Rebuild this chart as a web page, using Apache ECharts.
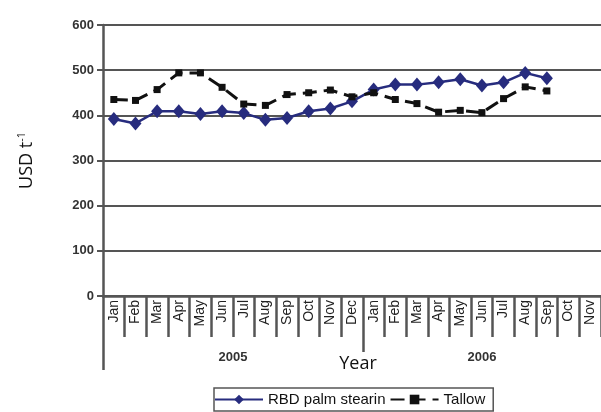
<!DOCTYPE html>
<html>
<head>
<meta charset="utf-8">
<script src="https://cdn.jsdelivr.net/npm/echarts@6/dist/echarts.min.js"></script>
<style>html,body{margin:0;padding:0;background:#fff;}#c{width:601px;height:412px;}</style>
</head>
<body>
<div id="c"></div>
<script>
const months = ['Jan','Feb','Mar','Apr','May','Jun','Jul','Aug','Sep','Oct','Nov','Dec','Jan','Feb','Mar','Apr','May','Jun','Jul','Aug','Sep','Oct','Nov'];
const years = ['2005','2006'];
const rbdPalmStearin = [392,382,409,409,403,409,405,390,394,409,415,431,457,468,468,473,480,466,473,494,482,null,null];
const tallow = [435,433,457,494,494,462,425,422,446,450,456,441,450,435,426,407,411,406,437,463,454,null,null];
const yTicks = [0,100,200,300,400,500,600];

const axisColor = '#555';
const chart = echarts.init(document.getElementById('c'), null, {renderer:'canvas'});
const n = months.length;
chart.setOption({
  animation:false,
  backgroundColor:'#fff',
  grid:{left:103, top:25, width:502, height:271, containLabel:false},
  legend:{
    left:214, top:388,
    padding:[4,8,4,0],
    borderColor:'#555', borderWidth:1.5,
    itemWidth:48, itemHeight:12, itemGap:4,
    textStyle:{fontFamily:'Liberation Sans, Arial', fontSize:15, color:'#111'},
    data:['RBD palm stearin','Tallow']
  },
  xAxis:[
    {
      type:'category', data:months, boundaryGap:true,
      axisLine:{lineStyle:{color:axisColor, width:2.5}},
      axisTick:{show:true, length:41, lineStyle:{color:axisColor, width:2.5}, interval:0},
      axisLabel:{rotate:90, interval:0, margin:4, fontFamily:'Liberation Sans, Arial', fontSize:14, color:'#222'},
      splitLine:{show:false}
    },
    {
      type:'value', min:0, max:n, position:'bottom',
      axisLine:{show:false},
      axisTick:{show:true, customValues:[12], length:56, lineStyle:{color:axisColor, width:2.5}},
      axisLabel:{show:true, customValues:[6,17.5], margin:55,
        formatter:function(v){return v < 12 ? years[0] : years[1];},
        fontFamily:'Liberation Sans, Arial', fontWeight:'bold', fontSize:13, color:'#333'},
      splitLine:{show:false}
    },
    {
      type:'value', min:0, max:n, position:'bottom',
      axisLine:{show:false},
      axisTick:{show:true, customValues:[0], length:74, lineStyle:{color:axisColor, width:2.5}},
      axisLabel:{show:false},
      splitLine:{show:false},
      name:'Year', nameLocation:'middle', nameGap:59, nameMoveOverlap:false,
      nameTextStyle:{fontFamily:'Open Sans, Noto Sans, Arial', fontSize:18, color:'#111', padding:[0,0,0,12]}
    }
  ],
  yAxis:{
    type:'value', min:0, max:600, interval:100,
    axisLine:{show:true, lineStyle:{color:axisColor, width:2.5}},
    axisTick:{show:true, length:6, lineStyle:{color:axisColor, width:2}},
    axisLabel:{margin:9, fontFamily:'Liberation Sans, Arial', fontWeight:'bold', fontSize:13, color:'#333'},
    splitLine:{show:true, lineStyle:{color:axisColor, width:2}},
    name:'{a|USD t}{s|-1}', nameLocation:'middle', nameGap:66,
    nameTextStyle:{
      rich:{
        a:{fontFamily:'Open Sans, Noto Sans, Arial', fontSize:18, color:'#111'},
        s:{fontFamily:'Open Sans, Noto Sans, Arial', fontSize:11, color:'#111', padding:[0,0,10,0]}
      }
    }
  },
  series:[
    {
      name:'RBD palm stearin', type:'line', data:rbdPalmStearin, xAxisIndex:0,
      symbol:'diamond', symbolSize:[12,14],
      lineStyle:{color:'#272c7e', width:2.5},
      itemStyle:{color:'#272c7e'}
    },
    {
      name:'Tallow', type:'line', data:tallow, xAxisIndex:0,
      symbol:'rect', symbolSize:7,
      lineStyle:{color:'#111', width:3, type:[14,7]},
      itemStyle:{color:'#111'}
    }
  ]
});
</script>
</body>
</html>
